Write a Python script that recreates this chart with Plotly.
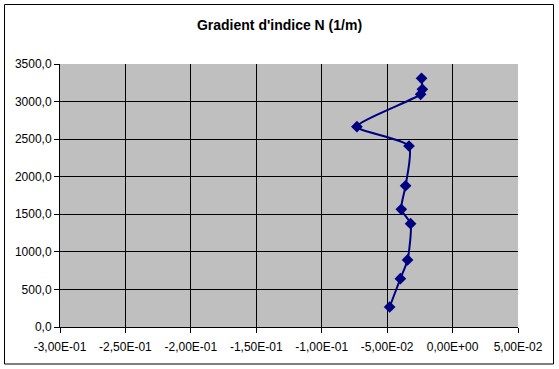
import plotly.graph_objects as go

# Data
gradient = [-0.0481, -0.0399, -0.0344, -0.0321, -0.0392, -0.0359, -0.0333, -0.0731, -0.0244, -0.0231, -0.0237]
altitude = [266, 643, 892, 1375, 1566, 1880, 2409, 2666, 3097, 3163, 3310]

x_tickvals = [-0.30, -0.25, -0.20, -0.15, -0.10, -0.05, 0.0, 0.05]
x_ticktext = ["-3,00E-01", "-2,50E-01", "-2,00E-01", "-1,50E-01", "-1,00E-01", "-5,00E-02", "0,00E+00", "5,00E-02"]
y_tickvals = [0, 500, 1000, 1500, 2000, 2500, 3000, 3500]
y_ticktext = ["0,0", "500,0", "1000,0", "1500,0", "2000,0", "2500,0", "3000,0", "3500,0"]

title = "Gradient d'indice N (1/m)"

W, H = 559, 369
L, R, T, B = 60, 41, 64, 42
pw, ph = W - L - R, H - T - B

fig = go.Figure()
fig.add_trace(go.Scatter(
    x=gradient, y=altitude, mode="lines+markers",
    line=dict(color="#000080", width=2, shape="spline", smoothing=0.6),
    marker=dict(symbol="diamond", size=9, color="#000080"),
    showlegend=False,
))

font = dict(family="Liberation Sans, Arial, sans-serif", size=12, color="black")

fig.update_layout(
    width=W, height=H,
    margin=dict(l=L, r=R, t=T, b=B),
    paper_bgcolor="white",
    plot_bgcolor="#bfbfbf",
    font=font,
    title=dict(text="<b>" + title + "</b>", x=0.5, xref="container", xanchor="center",
               y=1 - 25 / H, yanchor="middle",
               font=dict(family="Liberation Sans, Arial, sans-serif", size=14, color="black")),
    xaxis=dict(range=[-0.30, 0.05], tickvals=x_tickvals, ticktext=x_ticktext,
               showgrid=True, gridcolor="black", gridwidth=1,
               showline=True, linecolor="black", linewidth=1,
               ticks="outside", ticklen=5, tickcolor="black",
               ticklabelstandoff=4,
               zeroline=False, fixedrange=True),
    yaxis=dict(range=[0, 3500], tickvals=y_tickvals, ticktext=y_ticktext,
               showgrid=True, gridcolor="black", gridwidth=1,
               showline=True, linecolor="black", linewidth=1,
               ticks="outside", ticklen=5, tickcolor="black",
               zeroline=False, fixedrange=True),
)

# Outer chart border
fig.add_shape(type="rect", xref="paper", yref="paper",
              x0=(4.5 - L) / pw, x1=(553.5 - L) / pw,
              y0=(H - B - 364) / ph, y1=(H - B - 4.5) / ph,
              line=dict(color="black", width=1), fillcolor="rgba(0,0,0,0)", layer="below")

fig.write_html("out.html")
